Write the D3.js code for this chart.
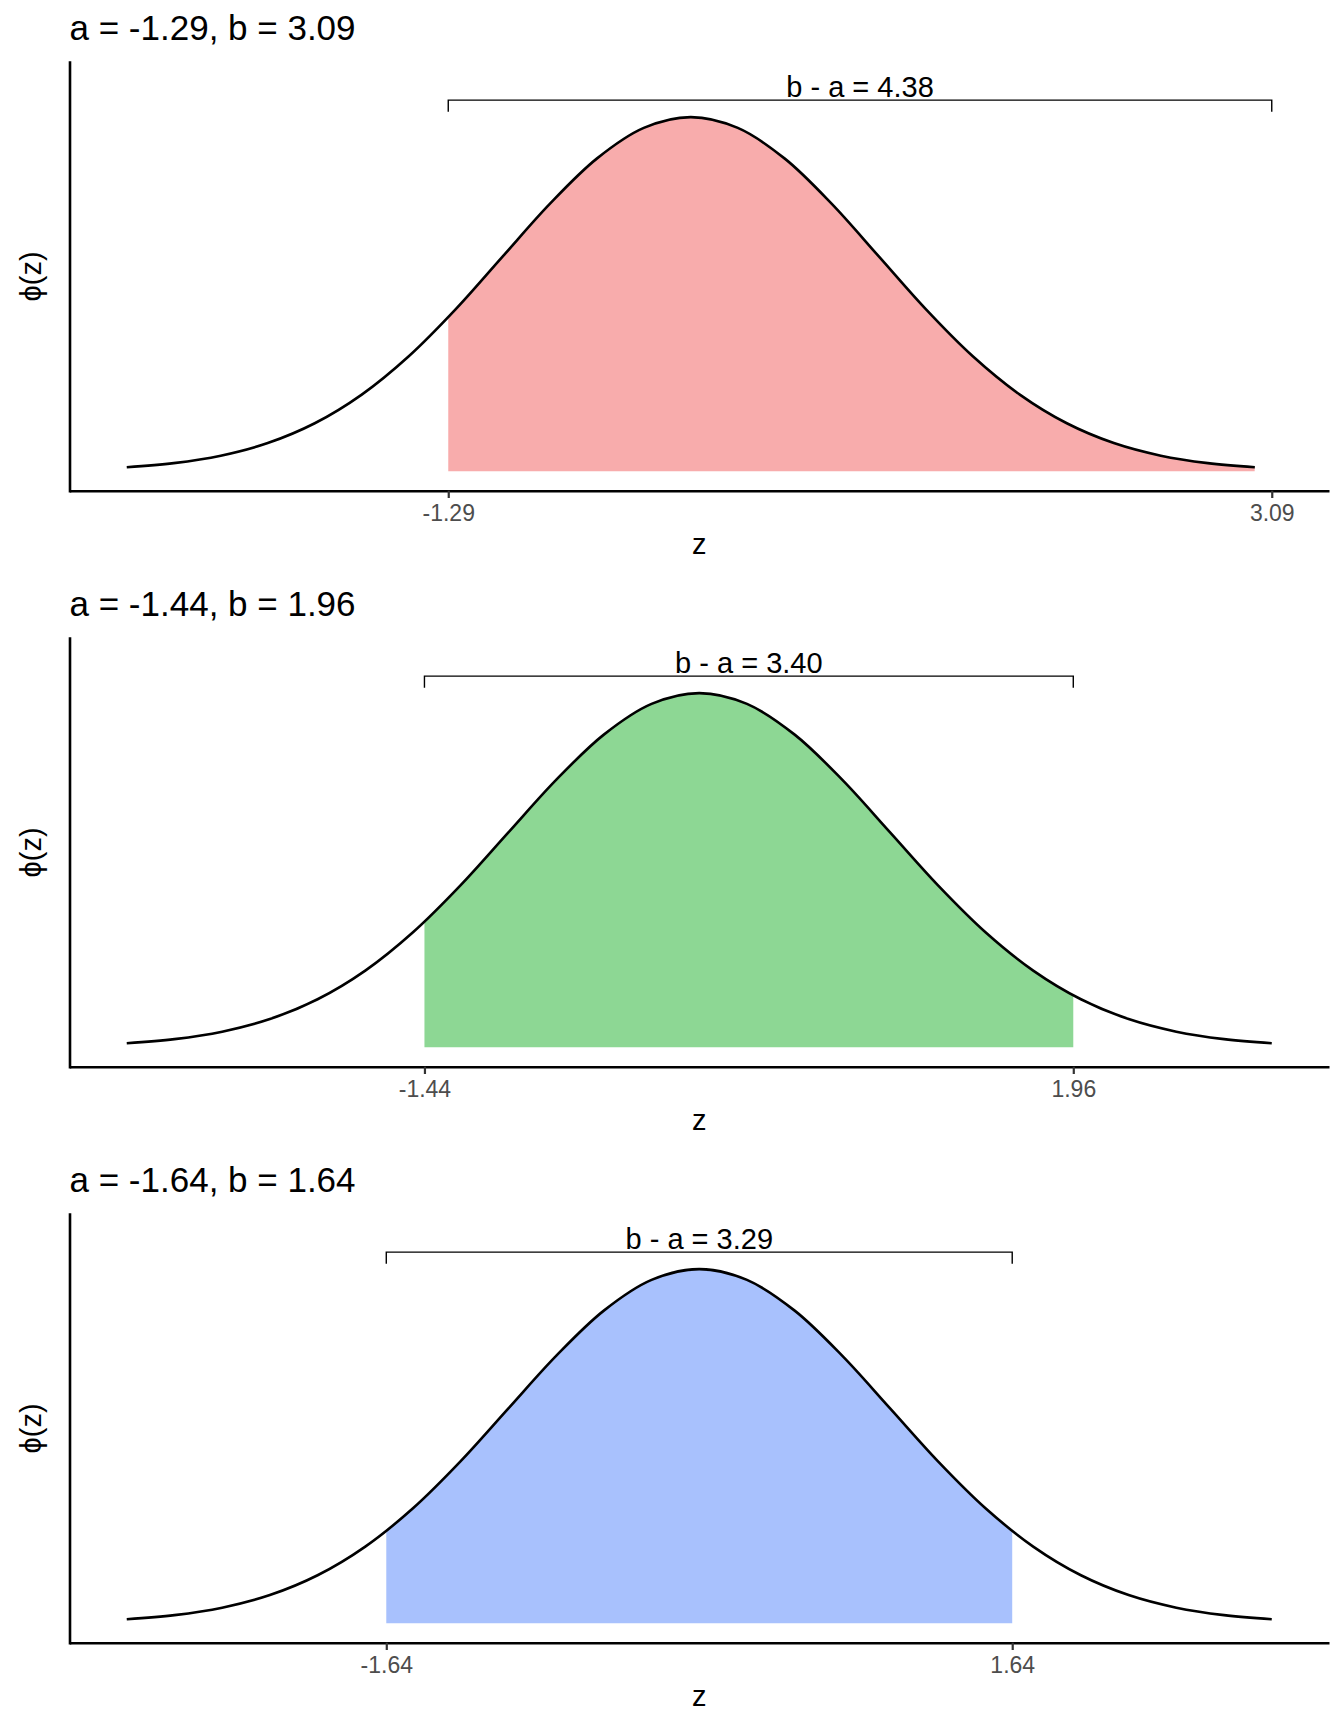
<!DOCTYPE html>
<html>
<head>
<meta charset="utf-8">
<script src="https://cdn.jsdelivr.net/npm/d3@7"></script>
<style>
  body { margin: 0; background: #fff; }
  text { font-family: "Liberation Sans", Arial, Helvetica, sans-serif; }
</style>
</head>
<body>
<svg id="chart" width="1344" height="1728"></svg>
<script>
// standard normal density at steps of 0.25
const zGrid = [-3, -2.75, -2.5, -2.25, -2, -1.75, -1.5, -1.25, -1, -0.75, -0.5, -0.25,
  0, 0.25, 0.5, 0.75, 1, 1.25, 1.5, 1.75, 2, 2.25, 2.5, 2.75, 3];
const phiValues = [0.0044, 0.0091, 0.0175, 0.0317, 0.0540, 0.0863, 0.1295, 0.1826, 0.2420, 0.3011, 0.3521, 0.3867,
  0.3989, 0.3867, 0.3521, 0.3011, 0.2420, 0.1826, 0.1295, 0.0863, 0.0540, 0.0317, 0.0175, 0.0091, 0.0044];

const aValues = [-1.29, -1.44, -1.64];
const bValues = [3.09, 1.96, 1.64];
const titles = ["a = -1.29, b = 3.09", "a = -1.44, b = 1.96", "a = -1.64, b = 1.64"];
const tickLabels = [["-1.29", "3.09"], ["-1.44", "1.96"], ["-1.64", "1.64"]];
const spanLabels = ["b - a = 4.38", "b - a = 3.40", "b - a = 3.29"];
const fillColors = ["#F8ACAC", "#8DD794", "#A8C1FD"];

const panelHeight = 576;
const margin = {top: 62, right: 15, bottom: 85.3, left: 69.5};
const width = 1344 - margin.left - margin.right;
const height = panelHeight - margin.top - margin.bottom;

// y positions (data units) of the bracket and its label
const yMax = 0.439;
const bracketY = 0.418;
const bracketTip = 0.405;
const labelY = 0.422;

const curveData = zGrid.map((z, i) => ({z: z, phi: phiValues[i]}));

function expand(lo, hi) {
  const pad = (hi - lo) * 0.05;
  return [lo - pad, hi + pad];
}

const svg = d3.select("#chart");

aValues.forEach((a, p) => {
  const b = bValues[p];
  const g = svg.append("g")
    .attr("transform", "translate(0," + (p * panelHeight) + ")");

  const zMin = d3.min(zGrid), zMax = d3.max(zGrid);
  const x = d3.scaleLinear()
    .domain(expand(Math.min(zMin, a), Math.max(zMax, b)))
    .range([margin.left, margin.left + width]);
  const y = d3.scaleLinear()
    .domain(expand(0, yMax))
    .range([margin.top + height, margin.top]);

  const line = d3.line()
    .x(d => x(d.z))
    .y(d => y(d.phi))
    .curve(d3.curveCatmullRom);
  const area = d3.area()
    .x(d => x(d.z))
    .y0(y(0))
    .y1(d => y(d.phi))
    .curve(d3.curveCatmullRom);

  const clipId = "clip-" + p;
  g.append("clipPath").attr("id", clipId)
    .append("rect")
    .attr("x", x(Math.max(a, zMin)))
    .attr("y", 0)
    .attr("width", x(Math.min(b, zMax)) - x(Math.max(a, zMin)))
    .attr("height", panelHeight);

  g.append("path")
    .datum(curveData)
    .attr("clip-path", "url(#" + clipId + ")")
    .attr("fill", fillColors[p])
    .attr("d", area);

  g.append("path")
    .datum(curveData)
    .attr("fill", "none")
    .attr("stroke", "#000")
    .attr("stroke-width", 2.6)
    .attr("d", line);

  // axes
  const xAxis = g.append("g")
    .attr("transform", "translate(0," + (margin.top + height) + ")")
    .call(d3.axisBottom(x)
      .tickValues([a, b])
      .tickFormat((d, i) => tickLabels[p][i])
      .tickSize(7.3)
      .tickSizeOuter(0)
      .tickPadding(6.5));
  xAxis.select(".domain").attr("stroke", "#000").attr("stroke-width", 2.6);
  xAxis.selectAll(".tick line").attr("stroke", "#333").attr("stroke-width", 2.2);
  xAxis.selectAll(".tick text")
    .attr("fill", "#4d4d4d")
    .style("font-size", "23px")
    .style("font-family", "'Liberation Sans', Arial, sans-serif");

  const yAxis = g.append("g")
    .attr("transform", "translate(" + margin.left + ",0)")
    .call(d3.axisLeft(y).tickValues([]).tickSizeOuter(0));
  yAxis.select(".domain").attr("stroke", "#000").attr("stroke-width", 2.6)
    .attr("stroke-linecap", "square");

  // bracket over [a, b]
  g.append("path")
    .attr("fill", "none")
    .attr("stroke", "#000")
    .attr("stroke-width", 1.4)
    .attr("d", "M" + x(a) + "," + y(bracketTip) +
      "V" + y(bracketY) + "H" + x(b) + "V" + y(bracketTip));

  g.append("text")
    .attr("x", x((a + b) / 2))
    .attr("y", y(labelY))
    .attr("text-anchor", "middle")
    .style("font-size", "29px")
    .text(spanLabels[p]);

  // titles
  g.append("text")
    .attr("x", margin.left)
    .attr("y", 40)
    .style("font-size", "35px")
    .text(titles[p]);

  g.append("text")
    .attr("x", margin.left + width / 2)
    .attr("y", 554)
    .attr("text-anchor", "middle")
    .style("font-size", "29px")
    .text("z");

  g.append("text")
    .attr("transform", "translate(41," + (margin.top + height / 2) + ") rotate(-90)")
    .attr("text-anchor", "middle")
    .style("font-size", "29px")
    .text("ϕ(z)");
});
</script>
</body>
</html>
